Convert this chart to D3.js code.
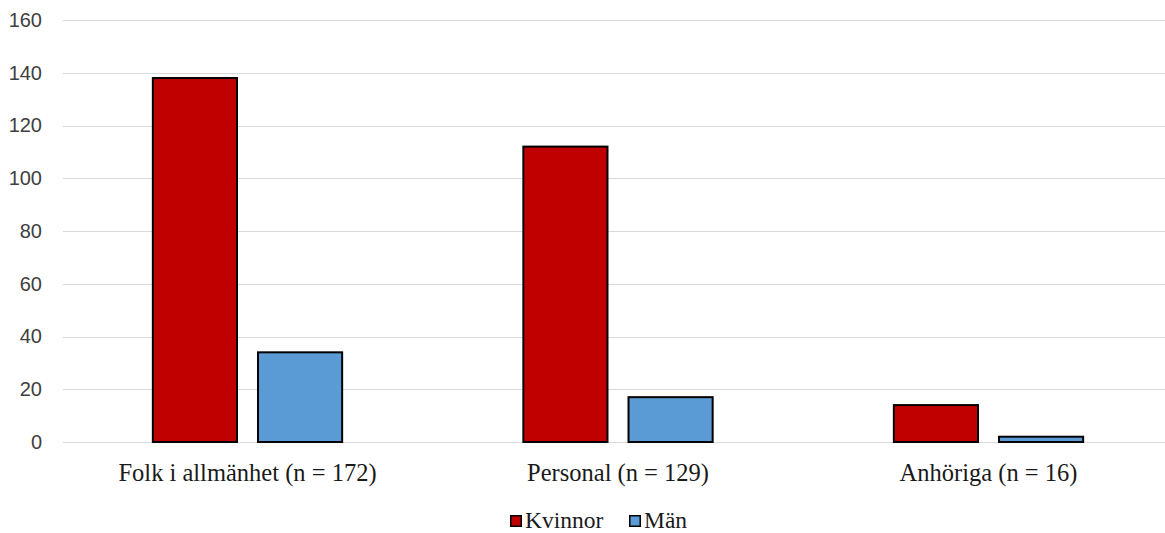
<!DOCTYPE html>
<html>
<head>
<meta charset="utf-8">
<script src="https://cdn.jsdelivr.net/npm/d3@7"></script>
<style>
  html, body { margin: 0; padding: 0; background: #fff; }
  svg { display: block; }
</style>
</head>
<body>
<svg id="chart" width="1165" height="533"></svg>
<script>
// Respondent groups and counts by gender
const categories = ["Folk i allmänhet (n = 172)", "Personal (n = 129)", "Anhöriga (n = 16)"];
const seriesNames = ["Kvinnor", "Män"];
const kvinnor = [138, 112, 14];
const man = [34, 17, 2];
const yTicks = [0, 20, 40, 60, 80, 100, 120, 140, 160];
const colors = ["#c00000", "#5b9bd5"];

const values = [kvinnor, man];
const rows = categories.map((c, i) => ({
  category: c,
  items: seriesNames.map((s, j) => ({ series: s, value: values[j][i] }))
}));

const svg = d3.select("#chart");

const x0 = d3.scaleBand().domain(categories).range([62.25, 1173.75]).padding(0);
const x1 = d3.scaleBand().domain(seriesNames)
  .range([90.6, x0.bandwidth() - 90.6]).paddingInner(0.2).paddingOuter(0);
const y = d3.scaleLinear().domain([0, 160]).range([442, 20]);
const color = d3.scaleOrdinal().domain(seriesNames).range(colors);

// Horizontal gridlines
svg.append("g")
  .selectAll("line")
  .data(yTicks)
  .join("line")
  .attr("x1", 63).attr("x2", 1165)
  .attr("y1", d => Math.round(y(d)) + 0.5)
  .attr("y2", d => Math.round(y(d)) + 0.5)
  .attr("stroke", "#d9d9d9")
  .attr("stroke-width", 1.2);

// Y axis labels
const yAxis = d3.axisLeft(y).tickValues(yTicks).tickSize(0).tickPadding(0);
const yg = svg.append("g").attr("transform", "translate(42,0)").call(yAxis);
yg.select(".domain").remove();
yg.selectAll("text")
  .attr("font-family", "'Liberation Sans', Arial, sans-serif")
  .attr("font-size", 20)
  .attr("fill", "#404040");

// Bars
const groups = svg.append("g")
  .selectAll("g")
  .data(rows)
  .join("g")
  .attr("transform", d => `translate(${x0(d.category)},0)`);

groups.selectAll("rect")
  .data(d => d.items)
  .join("rect")
  .attr("x", d => x1(d.series))
  .attr("y", d => y(d.value))
  .attr("width", x1.bandwidth())
  .attr("height", d => y(0) - y(d.value))
  .attr("fill", d => color(d.series))
  .attr("stroke", "#000")
  .attr("stroke-width", 2);

// Category labels
const xAxis = d3.axisBottom(x0).tickSize(0).tickPadding(0);
const xg = svg.append("g").call(xAxis);
xg.select(".domain").remove();
xg.selectAll("text")
  .attr("y", 481)
  .attr("dy", 0)
  .attr("font-family", "'Liberation Serif', 'Times New Roman', serif")
  .attr("font-size", 24.5)
  .attr("fill", "#1a1a1a");

// Legend
const legendItems = [
  { name: "Kvinnor", x: 510 },
  { name: "Män", x: 629 }
];
const legend = svg.append("g")
  .selectAll("g")
  .data(legendItems)
  .join("g")
  .attr("transform", d => `translate(${d.x},515)`);
legend.append("rect")
  .attr("x", 0.75).attr("y", 0.75)
  .attr("width", 10.5).attr("height", 10.5)
  .attr("fill", d => color(d.name))
  .attr("stroke", "#000").attr("stroke-width", 1.5);
legend.append("text")
  .attr("x", 15).attr("y", 12.5)
  .attr("font-family", "'Liberation Serif', 'Times New Roman', serif")
  .attr("font-size", 23.5)
  .attr("fill", "#1a1a1a")
  .text(d => d.name);
</script>
</body>
</html>
